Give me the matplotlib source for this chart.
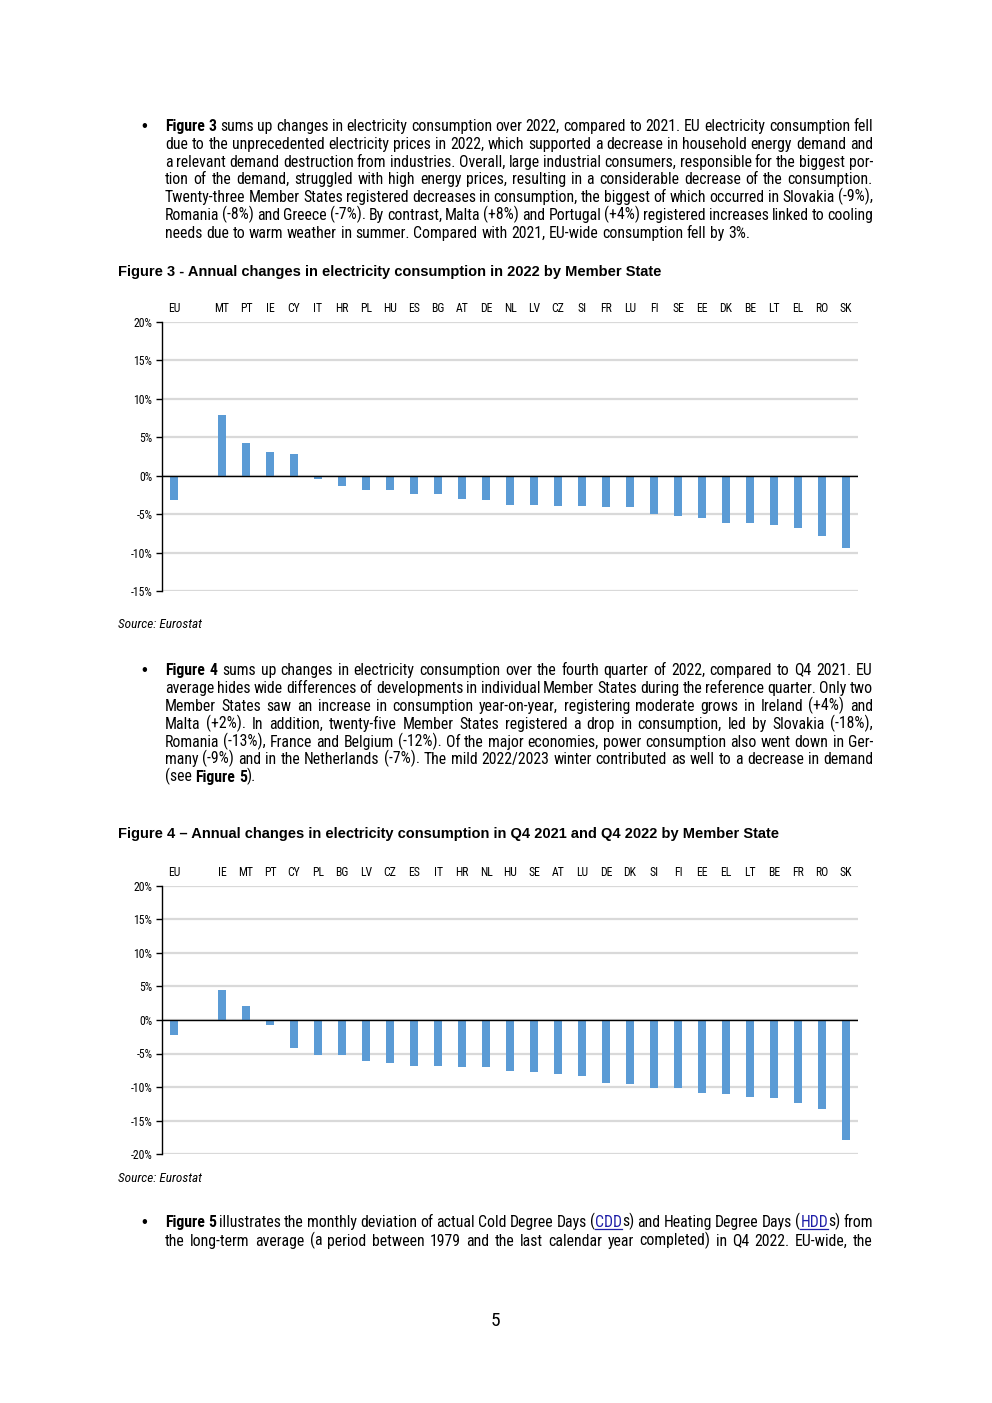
import math
import matplotlib.pyplot as plt
from matplotlib import font_manager

fig3_countries = ["MT", "PT", "IE", "CY", "IT", "HR", "PL", "HU", "ES", "BG", "AT", "DE", "NL",
                  "LV", "CZ", "SI", "FR", "LU", "FI", "SE", "EE", "DK", "BE", "LT", "EL", "RO", "SK"]
fig3_eu = -3.1
fig3_values = [7.85, 4.2, 3.05, 2.8, -0.45, -1.35, -1.8, -1.8, -2.4, -2.4, -3.0, -3.15, -3.75,
               -3.75, -3.9, -3.9, -4.05, -4.05, -4.95, -5.2, -5.45, -6.1, -6.2, -6.35, -6.75, -7.8, -9.35]

fig4_countries = ["IE", "MT", "PT", "CY", "PL", "BG", "LV", "CZ", "ES", "IT", "HR", "NL", "HU",
                  "SE", "AT", "LU", "DE", "DK", "SI", "FI", "EE", "EL", "LT", "BE", "FR", "RO", "SK"]
fig4_eu = -2.3
fig4_values = [4.5, 2.1, -0.8, -4.2, -5.25, -5.25, -6.15, -6.45, -6.9, -6.9, -7.05, -7.05, -7.65,
               -7.8, -8.1, -8.4, -9.4, -9.6, -10.2, -10.2, -10.9, -11.05, -11.5, -11.65, -12.4, -13.3, -17.9]

para1 = [
    [("Figure 3", "b"), (" sums up changes in electricity consumption over 2022, compared to 2021. EU electricity consumption fell", "n")],
    [("due to the unprecedented electricity prices in 2022, which supported a decrease in household energy demand and", "n")],
    [("a relevant demand destruction from industries. Overall, large industrial consumers, responsible for the biggest por-", "n")],
    [("tion of the demand, struggled with high energy prices, resulting in a considerable decrease of the consumption.", "n")],
    [("Twenty-three Member States registered decreases in consumption, the biggest of which occurred in Slovakia (-9%),", "n")],
    [("Romania (-8%) and Greece (-7%). By contrast, Malta (+8%) and Portugal (+4%) registered increases linked to cooling", "n")],
    [("needs due to warm weather in summer. Compared with 2021, EU-wide consumption fell by 3%.", "n")],
]
para2 = [
    [("Figure 4", "b"), (" sums up changes in electricity consumption over the fourth quarter of 2022, compared to Q4 2021. EU", "n")],
    [("average hides wide differences of developments in individual Member States during the reference quarter. Only two", "n")],
    [("Member States saw an increase in consumption year-on-year, registering moderate grows in Ireland (+4%) and", "n")],
    [("Malta (+2%). In addition, twenty-five Member States registered a drop in consumption, led by Slovakia (-18%),", "n")],
    [("Romania (-13%), France and Belgium (-12%). Of the major economies, power consumption also went down in Ger-", "n")],
    [("many (-9%) and in the Netherlands (-7%). The mild 2022/2023 winter contributed as well to a decrease in demand", "n")],
    [("(see ", "n"), ("Figure 5", "b"), (").", "n")],
]
para3 = [
    [("Figure 5", "b"), (" illustrates the monthly deviation of actual Cold Degree Days (", "n"), ("CDD", "l"),
     ("s) and Heating Degree Days (", "n"), ("HDD", "l"), ("s) from", "n")],
    [("the long-term average (a period between 1979 and the last calendar year completed) in Q4 2022. EU-wide, the", "n")],
]

title3 = "Figure 3 - Annual changes in electricity consumption in 2022 by Member State"
title4 = "Figure 4 \u2013 Annual changes in electricity consumption in Q4 2021 and Q4 2022 by Member State"

# ---- setup ----
W, H = 992, 1403
BAR = "#5B9BD5"
LINK = "#1F1FA8"
X0, X1 = 165, 873
names = {f.name for f in font_manager.fontManager.ttflist}
FONT = "Liberation Sans"
for cand in ["Roboto Condensed", "Liberation Sans Narrow", "DejaVu Sans Condensed", "Liberation Sans"]:
    if cand in names:
        FONT = cand
        break
plt.rcParams['font.family'] = [FONT, 'DejaVu Sans']
TITLE_FONT = ["Liberation Sans", "DejaVu Sans"]

fig = plt.figure(figsize=(W / 100, H / 100), dpi=100)
page = fig.add_axes([0, 0, 1, 1])
page.set_xlim(0, W)
page.set_ylim(H, 0)
page.axis('off')
renderer = fig.canvas.get_renderer()


def measure(s, size, weight="normal"):
    t = page.text(0, 0, s, fontsize=size, weight=weight)
    w = t.get_window_extent(renderer).width
    t.remove()
    return w


def split_words(runs):
    words, cur = [], []
    for text, style in runs:
        for i, part in enumerate(text.split(" ")):
            if i > 0 and cur:
                words.append(cur)
                cur = []
            if part:
                cur.append((part, style))
    if cur:
        words.append(cur)
    return words


# pick the body size so every justified line fits
TXT = 12.5
while TXT > 7:
    sp = measure("x x", TXT) - measure("xx", TXT)
    ok = True
    for para in (para1, para2, para3):
        for runs in para:
            words = split_words(runs)
            tot = sum(measure(t, TXT, "bold" if s == "b" else "normal") for w in words for t, s in w)
            if tot + 0.8 * sp * (len(words) - 1) > X1 - X0:
                ok = False
                break
        if not ok:
            break
    if ok:
        break
    TXT -= 0.1
space = measure("x x", TXT) - measure("xx", TXT)


def draw_line(runs, y, justify):
    base = round(y + 4)
    items = []
    for w in split_words(runs):
        objs = []
        for t, s in w:
            obj = page.text(0, base, t, fontsize=TXT, va="baseline", ha="left",
                            weight="bold" if s == "b" else "normal",
                            color=LINK if s == "l" else "black")
            # keep the baseline on the same pixel row whatever the word's descent
            d = renderer.get_text_width_height_descent(t, obj.get_fontproperties(), False)[2]
            obj.set_y(base + math.floor(d) - d)
            objs.append((obj, obj.get_window_extent(renderer).width, s))
        items.append(objs)
    widths = [sum(o[1] for o in objs) for objs in items]
    gap = (X1 - X0 - sum(widths)) / (len(items) - 1) if justify and len(items) > 1 else space
    x = X0
    for objs in items:
        for obj, wd, s in objs:
            obj.set_x(x)
            if s == "l":
                page.plot([x, x + wd], [base + 2, base + 2], color=LINK, lw=0.9)
            x += wd
        x += gap


def draw_para(lines, y0, step, last_justified=False):
    page.text(141, y0, "\u2022", fontsize=12, va="center", ha="left", family=TITLE_FONT)
    for i, runs in enumerate(lines):
        last = i == len(lines) - 1
        draw_line(runs, y0 + i * step, (not last) or last_justified)


def bar_chart(top, bottom, eu, countries, values, ymin):
    ax = fig.add_axes([162 / W, 1 - bottom / H, (858 - 162) / W, (bottom - top) / H])
    pos = [0] + list(range(2, 2 + len(countries)))
    ax.bar(pos, [eu] + values, width=0.33, color=BAR, zorder=3)
    ax.set_xlim(-0.5, len(countries) + 1.5)
    ax.set_ylim(ymin, 20)
    ticks = list(range(ymin, 21, 5))
    ax.set_yticks(ticks)
    ax.set_yticklabels([f"{t}%" for t in ticks])
    ax.yaxis.grid(True, color="#D9D9D9", lw=1.6)
    ax.set_axisbelow(True)
    ax.axhline(0, color="black", lw=1, zorder=4)
    for s in ["top", "right", "bottom"]:
        ax.spines[s].set_visible(False)
    ax.spines["left"].set_linewidth(1)
    ax.xaxis.tick_top()
    ax.set_xticks(pos)
    ax.set_xticklabels(["EU"] + countries)
    ax.tick_params(axis="x", length=0, pad=5, labelsize=8.5)
    ax.tick_params(axis="y", direction="out", length=4, width=1, labelsize=8.5, pad=3)
    return ax


# ---- page content ----
draw_para(para1, 127, 17.8)
page.text(118, 272, title3, fontsize=10.5, weight="bold", va="center", ha="left", family=TITLE_FONT)
bar_chart(322, 591, fig3_eu, fig3_countries, fig3_values, -15)
page.text(118, 625, "Source: Eurostat", fontsize=9.5, style="italic", va="center", ha="left")

draw_para(para2, 671, 17.9)
page.text(118, 834, title4, fontsize=10.5, weight="bold", va="center", ha="left", family=TITLE_FONT)
bar_chart(886, 1154, fig4_eu, fig4_countries, fig4_values, -20)
page.text(118, 1178, "Source: Eurostat", fontsize=9.5, style="italic", va="center", ha="left")

draw_para(para3, 1223, 18.5, last_justified=True)
page.text(495, 1321, "5", fontsize=14, va="center", ha="center")

fig.savefig("out.png", dpi=100)
